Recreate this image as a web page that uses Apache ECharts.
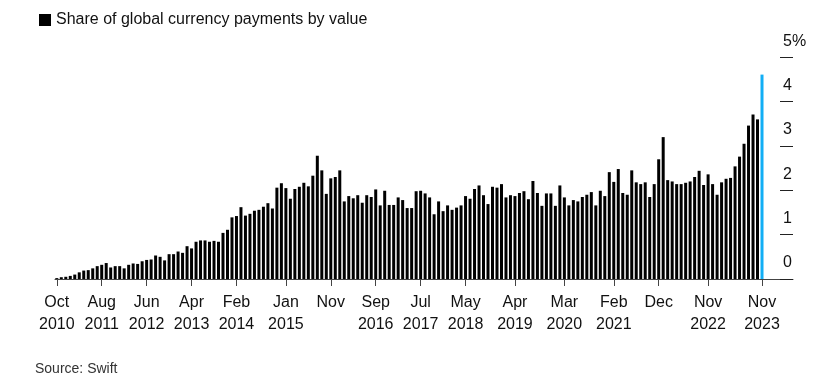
<!DOCTYPE html>
<html>
<head>
<meta charset="utf-8">
<script src="https://cdn.jsdelivr.net/npm/echarts@6/dist/echarts.min.js"></script>
<style>
html,body{margin:0;padding:0;background:#fff;}
#chart{width:821px;height:390px;}
</style>
</head>
<body>
<div id="chart"></div>
<script>
// Monthly share of global currency payments by value (%), Oct 2010 .. Nov 2023
var startYear = 2010, startMonth = 10;
var shareValues = [
  0.02,0.04,0.05,0.07,0.10,0.15,0.19,0.20,0.24,0.29,
  0.32,0.36,0.26,0.29,0.29,0.24,0.32,0.35,0.34,0.40,
  0.43,0.44,0.53,0.50,0.42,0.56,0.56,0.62,0.59,0.74,
  0.69,0.84,0.87,0.87,0.84,0.86,0.84,1.04,1.11,1.39,
  1.42,1.62,1.43,1.47,1.54,1.56,1.63,1.71,1.59,2.06,
  2.16,2.05,1.81,2.03,2.08,2.17,2.09,2.33,2.78,2.45,
  1.92,2.27,2.30,2.45,1.75,1.87,1.82,1.89,1.72,1.89,
  1.85,2.02,1.66,1.99,1.67,1.67,1.84,1.78,1.60,1.60,
  1.98,1.99,1.93,1.84,1.46,1.75,1.53,1.66,1.56,1.61,
  1.66,1.87,1.81,2.03,2.11,1.89,1.69,2.08,2.06,2.14,
  1.84,1.89,1.87,1.94,1.98,1.80,2.21,1.94,1.65,1.93,
  1.93,1.65,2.11,1.84,1.66,1.78,1.75,1.85,1.90,1.96,
  1.66,1.99,1.87,2.41,2.19,2.48,1.94,1.90,2.45,2.18,
  2.14,2.18,1.85,2.14,2.70,3.20,2.23,2.20,2.14,2.14,
  2.17,2.20,2.30,2.44,2.12,2.36,2.14,1.90,2.18,2.26,
  2.28,2.54,2.76,3.05,3.46,3.71,3.60,4.61
];
var tickMonths = ['2010-10','2011-08','2012-06','2013-04','2014-02','2015-01','2015-11','2016-09',
  '2017-07','2018-05','2019-04','2020-03','2021-02','2021-12','2022-11','2023-11'];
var tickLabels = ['Oct\n2010','Aug\n2011','Jun\n2012','Apr\n2013','Feb\n2014','Jan\n2015','Nov','Sep\n2016',
  'Jul\n2017','May\n2018','Apr\n2019','Mar\n2020','Feb\n2021','Dec','Nov\n2022','Nov\n2023'];
var yTicks = [0,1,2,3,4,5];
var seriesName = 'Share of global currency payments by value';
var sourceText = 'Source: Swift';

// month categories
var months = [];
for (var i = 0; i < shareValues.length; i++) {
  var m = startMonth - 1 + i;
  var y = startYear + Math.floor(m / 12);
  var mm = (m % 12) + 1;
  months.push(y + '-' + (mm < 10 ? '0' + mm : mm));
}
var tickIdx = tickMonths.map(function (t) { return months.indexOf(t); });
var labelByIdx = {};
tickIdx.forEach(function (ix, k) { labelByIdx[ix] = tickLabels[k]; });

var data = shareValues.map(function (v, i) {
  var d = { value: [i, v] };
  if (i === shareValues.length - 1) d.itemStyle = { color: '#12aef5' };
  return d;
});

var FONT = '"Liberation Sans", Arial, sans-serif';
var chart = echarts.init(document.getElementById('chart'), null, { renderer: 'canvas' });
chart.setOption({
  animation: false,
  backgroundColor: '#fff',
  textStyle: { fontFamily: FONT },
  legend: {
    left: 34, top: 7, itemWidth: 12, itemHeight: 12, itemGap: 5,
    icon: 'rect', selectedMode: false,
    textStyle: { fontSize: 16, color: '#111', fontFamily: FONT },
    data: [seriesName]
  },
  title: {
    text: sourceText, left: 30, top: 357,
    textStyle: { fontSize: 14, fontWeight: 'normal', color: '#333', fontFamily: FONT }
  },
  grid: { left: 55, right: 28, top: 57.3, bottom: 111, containLabel: false },
  xAxis: {
    type: 'value', min: -0.4, max: 163.9,
    splitLine: { show: false },
    axisLine: { show: true, onZero: false, lineStyle: { color: '#444', width: 1 } },
    axisTick: { show: true, length: 7, customValues: tickIdx, lineStyle: { color: '#444' } },
    axisLabel: {
      customValues: tickIdx, margin: 13, fontSize: 16, lineHeight: 22, color: '#111',
      fontFamily: FONT,
      formatter: function (v) { return labelByIdx[Math.round(v)] || ''; }
    }
  },
  yAxis: {
    type: 'value', position: 'right', min: 0, max: 5, interval: 1,
    splitLine: { show: false },
    axisLine: { show: false, onZero: false },
    axisTick: { show: true, inside: true, length: 13, customValues: yTicks, lineStyle: { color: '#222', width: 1 } },
    axisLabel: {
      margin: -10, align: 'left', verticalAlign: 'bottom', fontSize: 16, color: '#111',
      lineHeight: 16, padding: [0, 0, 8, 0],
      fontFamily: FONT,
      formatter: function (v) { return v === 5 ? '5%' : String(v); }
    }
  },
  series: [{
    name: seriesName, type: 'bar', barWidth: 3,
    itemStyle: { color: '#000' },
    data: data
  }]
});
</script>
</body>
</html>
